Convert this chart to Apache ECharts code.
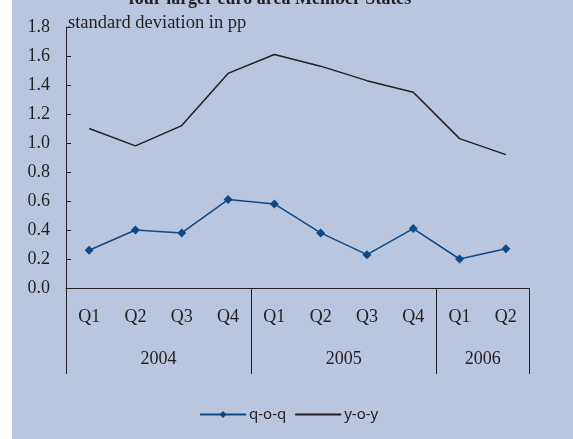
<!DOCTYPE html>
<html>
<head>
<meta charset="utf-8">
<script src="https://cdn.jsdelivr.net/npm/echarts@6/dist/echarts.min.js"></script>
<style>
  html, body { margin: 0; padding: 0; background: #fff; }
  #chart { width: 573px; height: 439px; }
</style>
</head>
<body>
<div id="chart"></div>
<script>
// 数据
var quarters = ['Q1', 'Q2', 'Q3', 'Q4', 'Q1', 'Q2', 'Q3', 'Q4', 'Q1', 'Q2']
var years = ['2004', '2005', '2006']
var yearSpans = [4, 4, 2]
var qoq = [0.26, 0.40, 0.38, 0.61, 0.58, 0.38, 0.23, 0.41, 0.20, 0.27]
var yoy = [1.10, 0.98, 1.12, 1.48, 1.61, 1.53, 1.43, 1.35, 1.03, 0.92]
var yTicks = [0, 0.2, 0.4, 0.6, 0.8, 1.0, 1.2, 1.4, 1.6, 1.8]

// 年份分隔线和标签的位置
var yearBounds = [0]
var yearCenters = []
yearSpans.forEach(function(n, i) {
  var start = yearBounds[i]
  yearBounds.push(start + n)
  yearCenters.push(start + n / 2)
})

var serif = 'Liberation Serif'
var ink = '#231F20'
var blue = '#0B4A8B'

var myChart = echarts.init(document.getElementById('chart'))
var option = {
  backgroundColor: '#ffffff',
  animation: false,
  graphic: [
    {
      type: 'rect',
      z: -100,
      shape: { x: 12, y: 0, width: 561, height: 439 },
      style: { fill: '#BAC5DE' }
    },
    {
      type: 'text',
      x: 270,
      y: 8,
      style: {
        text: 'four larger euro area Member States',
        font: 'bold 18px "Liberation Serif"',
        fill: ink,
        align: 'center',
        verticalAlign: 'bottom'
      }
    },
    {
      type: 'text',
      x: 68,
      y: 14,
      style: {
        text: 'standard deviation in pp',
        font: '18.5px "Liberation Serif"',
        fill: ink,
        align: 'left',
        verticalAlign: 'top'
      }
    }
  ],
  grid: { left: 66, right: 44, top: 27, bottom: 151 },
  legend: {
    left: 194,
    top: 402,
    itemWidth: 46,
    itemHeight: 9,
    itemGap: 8,
    textStyle: { fontFamily: 'Noto Sans', fontSize: 15, color: ink, padding: [0, 0, 0, -2] },
    data: [
      { name: 'q-o-q' },
      { name: 'y-o-y', itemStyle: { color: 'transparent', borderWidth: 0 } }
    ]
  },
  xAxis: [
    {
      type: 'category',
      data: quarters,
      boundaryGap: true,
      axisLine: { lineStyle: { color: ink, width: 1 } },
      axisTick: { interval: 0, length: 44, lineStyle: { color: ink } },
      axisLabel: { interval: 0, margin: 20, fontFamily: serif, fontSize: 18, color: ink }
    },
    {
      type: 'value',
      position: 'bottom',
      min: 0,
      max: quarters.length,
      axisLine: { show: false },
      splitLine: { show: false },
      axisTick: {
        show: true,
        length: 86,
        customValues: yearBounds,
        lineStyle: { color: ink }
      },
      axisLabel: {
        margin: 62,
        customValues: yearCenters,
        fontFamily: serif,
        fontSize: 18,
        color: ink,
        formatter: function(v) {
          var i = yearCenters.indexOf(v)
          return i >= 0 ? years[i] : ''
        }
      }
    }
  ],
  yAxis: {
    type: 'value',
    min: yTicks[0],
    max: yTicks[yTicks.length - 1],
    interval: 0.2,
    axisLine: { show: true, lineStyle: { color: ink } },
    axisTick: { show: true, inside: true, length: 5, lineStyle: { color: ink } },
    splitLine: { show: false },
    axisLabel: {
      margin: 16,
      fontFamily: serif,
      fontSize: 18,
      color: ink,
      formatter: function(v) { return v.toFixed(1) }
    }
  },
  series: [
    {
      name: 'q-o-q',
      type: 'line',
      xAxisIndex: 0,
      data: qoq,
      symbol: 'diamond',
      symbolSize: 9,
      lineStyle: { color: blue, width: 1.5 },
      itemStyle: { color: blue }
    },
    {
      name: 'y-o-y',
      type: 'line',
      xAxisIndex: 0,
      data: yoy,
      symbol: 'none',
      lineStyle: { color: ink, width: 1.5 },
      itemStyle: { color: ink }
    }
  ]
}
myChart.setOption(option)
</script>
</body>
</html>
